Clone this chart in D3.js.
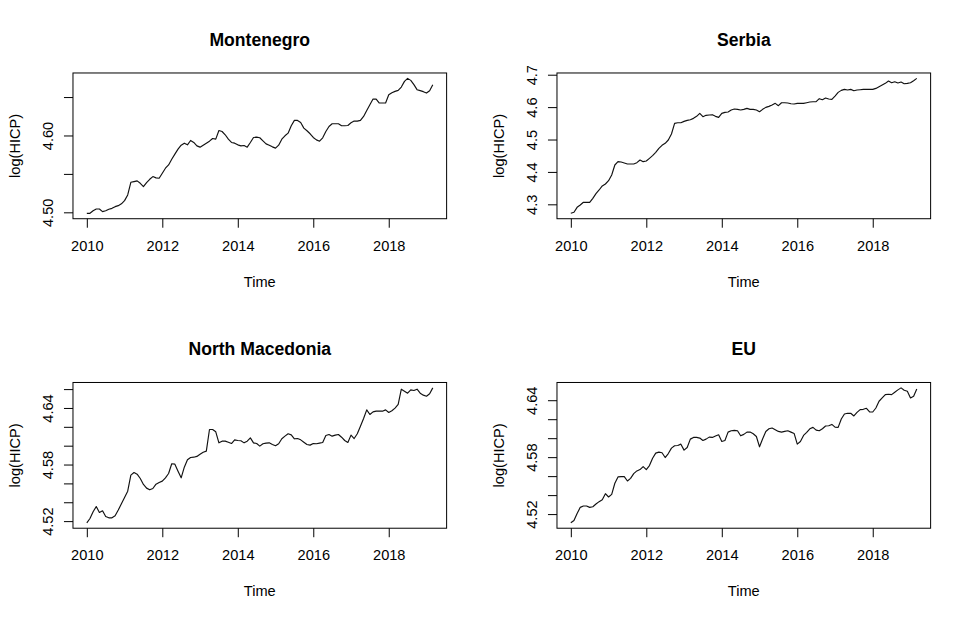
<!DOCTYPE html>
<html>
<head>
<meta charset="utf-8">
<script src="https://cdn.jsdelivr.net/npm/d3@7"></script>
<style>
  html, body { margin: 0; padding: 0; background: #ffffff; }
  svg { display: block; }
  text { font-family: "Liberation Sans", Arial, sans-serif; fill: #000; }
</style>
</head>
<body>
<script>
// ---------- data (monthly, Jan 2010 .. Mar 2019) ----------
const startYear = 2010;
const xTickValues = [2010, 2012, 2014, 2016, 2018];

const montenegro = [4.4987,4.4987,4.5020,4.5043,4.5043,4.5009,4.5020,4.5040,4.5052,4.5074,
4.5087,4.5110,4.5152,4.5226,4.5391,4.5400,4.5409,4.5378,4.5335,4.5387,
4.5430,4.5465,4.5448,4.5443,4.5509,4.5574,4.5617,4.5691,4.5757,4.5822,
4.5874,4.5900,4.5878,4.5935,4.5909,4.5865,4.5848,4.5874,4.5900,4.5926,
4.5961,4.5952,4.6065,4.6052,4.6009,4.5952,4.5909,4.5900,4.5878,4.5865,
4.5870,4.5848,4.5909,4.5974,4.5978,4.5970,4.5930,4.5891,4.5874,4.5852,
4.5835,4.5874,4.5952,4.5996,4.6030,4.6126,4.6196,4.6196,4.6170,4.6096,
4.6061,4.6022,4.5974,4.5943,4.5926,4.5970,4.6052,4.6117,4.6152,4.6152,
4.6152,4.6126,4.6126,4.6130,4.6165,4.6187,4.6187,4.6196,4.6248,4.6326,
4.6400,4.6474,4.6474,4.6422,4.6422,4.6422,4.6530,4.6557,4.6574,4.6587,
4.6630,4.6704,4.6743,4.6717,4.6661,4.6596,4.6583,4.6570,4.6552,4.6583,
4.6661];

const serbia = [4.2722,4.2753,4.2907,4.2979,4.3062,4.3062,4.3062,4.3185,4.3329,4.3442,
4.3566,4.3627,4.3730,4.3905,4.4213,4.4316,4.4306,4.4275,4.4244,4.4244,
4.4244,4.4285,4.4368,4.4316,4.4337,4.4419,4.4501,4.4604,4.4728,4.4820,
4.4882,4.4985,4.5170,4.5499,4.5519,4.5519,4.5560,4.5591,4.5612,4.5653,
4.5715,4.5807,4.5704,4.5746,4.5756,4.5766,4.5715,4.5684,4.5807,4.5838,
4.5848,4.5910,4.5941,4.5931,4.5910,4.5931,4.5961,4.5931,4.5931,4.5910,
4.5859,4.5931,4.5992,4.6023,4.6064,4.6116,4.6044,4.6136,4.6136,4.6126,
4.6105,4.6095,4.6116,4.6116,4.6116,4.6136,4.6157,4.6167,4.6167,4.6260,
4.6229,4.6280,4.6249,4.6239,4.6342,4.6455,4.6517,4.6548,4.6527,4.6548,
4.6506,4.6527,4.6537,4.6548,4.6548,4.6548,4.6548,4.6578,4.6630,4.6681,
4.6733,4.6805,4.6753,4.6784,4.6743,4.6774,4.6722,4.6733,4.6753,4.6815,
4.6887];

const northMacedonia = [4.5182,4.5228,4.5299,4.5355,4.5292,4.5310,4.5249,4.5235,4.5235,4.5257,
4.5317,4.5384,4.5451,4.5518,4.5688,4.5716,4.5698,4.5652,4.5589,4.5550,
4.5532,4.5546,4.5592,4.5610,4.5624,4.5659,4.5705,4.5808,4.5804,4.5730,
4.5659,4.5772,4.5850,4.5875,4.5878,4.5886,4.5910,4.5931,4.5942,4.6172,
4.6172,4.6147,4.6030,4.6048,4.6048,4.6037,4.6023,4.6062,4.6055,4.6052,
4.6030,4.6048,4.6083,4.6030,4.6023,4.5995,4.6020,4.6027,4.6030,4.6013,
4.5999,4.6020,4.6073,4.6101,4.6126,4.6115,4.6073,4.6076,4.6062,4.6037,
4.6013,4.6006,4.6023,4.6020,4.6027,4.6034,4.6108,4.6119,4.6101,4.6112,
4.6119,4.6090,4.6055,4.6034,4.6112,4.6076,4.6126,4.6207,4.6288,4.6380,
4.6331,4.6359,4.6366,4.6366,4.6366,4.6380,4.6352,4.6370,4.6398,4.6437,
4.6599,4.6578,4.6557,4.6592,4.6585,4.6599,4.6557,4.6536,4.6525,4.6550,
4.6613];

const eu = [4.5108,4.5133,4.5207,4.5271,4.5285,4.5285,4.5271,4.5278,4.5306,4.5331,
4.5352,4.5415,4.5380,4.5408,4.5525,4.5592,4.5595,4.5595,4.5549,4.5577,
4.5627,4.5655,4.5669,4.5701,4.5669,4.5711,4.5789,4.5842,4.5853,4.5846,
4.5796,4.5838,4.5895,4.5920,4.5923,4.5937,4.5874,4.5902,4.5990,4.6008,
4.6008,4.6001,4.5976,4.5990,4.6011,4.6008,4.6022,4.6036,4.5965,4.5976,
4.6064,4.6078,4.6082,4.6078,4.6025,4.6040,4.6064,4.6064,4.6047,4.6018,
4.5909,4.5994,4.6071,4.6099,4.6107,4.6089,4.6071,4.6064,4.6071,4.6078,
4.6064,4.6050,4.5937,4.5965,4.6029,4.6061,4.6099,4.6114,4.6085,4.6078,
4.6099,4.6128,4.6131,4.6145,4.6117,4.6114,4.6202,4.6255,4.6262,4.6262,
4.6234,4.6272,4.6301,4.6304,4.6315,4.6276,4.6276,4.6318,4.6389,4.6424,
4.6459,4.6463,4.6459,4.6484,4.6509,4.6530,4.6505,4.6494,4.6424,4.6442,
4.6519];

const titles = ["Montenegro", "Serbia", "North Macedonia", "EU"];
const montenegroTicks = [4.50, 4.55, 4.60, 4.65];
const montenegroLabels = ["4.50", "", "4.60", ""];
const serbiaTicks = [4.3, 4.4, 4.5, 4.6, 4.7];
const serbiaLabels = ["4.3", "4.4", "4.5", "4.6", "4.7"];
const northMacedoniaTicks = [4.52, 4.54, 4.56, 4.58, 4.60, 4.62, 4.64, 4.66];
const northMacedoniaLabels = ["4.52", "", "", "4.58", "", "", "4.64", ""];
const euTicks = [4.52, 4.54, 4.56, 4.58, 4.60, 4.62, 4.64];
const euLabels = ["4.52", "", "", "4.58", "", "", "4.64"];
const yLabel = "log(HICP)";
const xLabel = "Time";

// ---------- layout ----------
const W = 968, H = 619;
const L = 17.8; // R margin line height in px
const panelW = W / 2, panelH = H / 2;
const mar = { top: 4.1 * L, right: 2.1 * L, bottom: 5.1 * L, left: 4.1 * L };

const panels = [
  { title: titles[0], values: montenegro, ticks: montenegroTicks, labels: montenegroLabels },
  { title: titles[1], values: serbia, ticks: serbiaTicks, labels: serbiaLabels },
  { title: titles[2], values: northMacedonia, ticks: northMacedoniaTicks, labels: northMacedoniaLabels },
  { title: titles[3], values: eu, ticks: euTicks, labels: euLabels }
];

const svg = d3.select("body").append("svg").attr("width", W).attr("height", H);
svg.append("rect").attr("width", W).attr("height", H).attr("fill", "#fff");

const axisFont = 14.6;
const titleFont = 17.6;

panels.forEach((p, k) => {
  const col = k % 2, row = Math.floor(k / 2);
  const x0 = col * panelW + mar.left;
  const x1 = (col + 1) * panelW - mar.right;
  const y0 = row * panelH + mar.top;
  const y1 = (row + 1) * panelH - mar.bottom;

  const times = p.values.map((v, i) => startYear + i / 12);
  const tExt = d3.extent(times), vExt = d3.extent(p.values);
  const tPad = 0.04 * (tExt[1] - tExt[0]), vPad = 0.04 * (vExt[1] - vExt[0]);

  const x = d3.scaleLinear().domain([tExt[0] - tPad, tExt[1] + tPad]).range([x0, x1]);
  const y = d3.scaleLinear().domain([vExt[0] - vPad, vExt[1] + vPad]).range([y1, y0]);

  const g = svg.append("g");

  // line
  const line = d3.line().x((d, i) => x(times[i])).y(d => y(d));
  g.append("path").datum(p.values)
    .attr("d", line)
    .attr("fill", "none")
    .attr("stroke", "#111")
    .attr("stroke-width", 1.15)
    .attr("stroke-linejoin", "round");

  // box
  g.append("rect")
    .attr("x", x0).attr("y", y0)
    .attr("width", x1 - x0).attr("height", y1 - y0)
    .attr("fill", "none").attr("stroke", "#000").attr("stroke-width", 1);

  // x axis
  const xa = g.append("g").attr("transform", `translate(0,${y1})`)
    .call(d3.axisBottom(x).tickValues(xTickValues).tickFormat(d3.format("d")).tickSize(9).tickSizeOuter(0));
  xa.select(".domain").remove();
  xa.selectAll(".tick line").attr("stroke", "#000");
  xa.selectAll(".tick text")
    .attr("y", 32).attr("dy", null)
    .style("font-size", axisFont + "px")
    .style("font-family", '"Liberation Sans", Arial, sans-serif');

  // y axis
  const ya = g.append("g").attr("transform", `translate(${x0},0)`)
    .call(d3.axisLeft(y).tickValues(p.ticks).tickFormat((d, i) => p.labels[i]).tickSize(9).tickSizeOuter(0));
  ya.select(".domain").remove();
  ya.selectAll(".tick line").attr("stroke", "#000");
  ya.selectAll(".tick text")
    .attr("x", null).attr("dy", null)
    .attr("text-anchor", "middle")
    .attr("transform", "translate(-20,0) rotate(-90)")
    .style("font-size", axisFont + "px")
    .style("font-family", '"Liberation Sans", Arial, sans-serif');

  // title
  g.append("text")
    .attr("x", (x0 + x1) / 2).attr("y", y0 - 27)
    .attr("text-anchor", "middle")
    .style("font-size", titleFont + "px")
    .style("font-weight", "bold")
    .text(p.title);

  // x label
  g.append("text")
    .attr("x", (x0 + x1) / 2).attr("y", y1 + 68)
    .attr("text-anchor", "middle")
    .style("font-size", axisFont + "px")
    .text(xLabel);

  // y label
  g.append("text")
    .attr("transform", `translate(${x0 - 3 * L},${(y0 + y1) / 2}) rotate(-90)`)
    .attr("text-anchor", "middle")
    .style("font-size", axisFont + "px")
    .text(yLabel);
});
</script>
</body>
</html>
